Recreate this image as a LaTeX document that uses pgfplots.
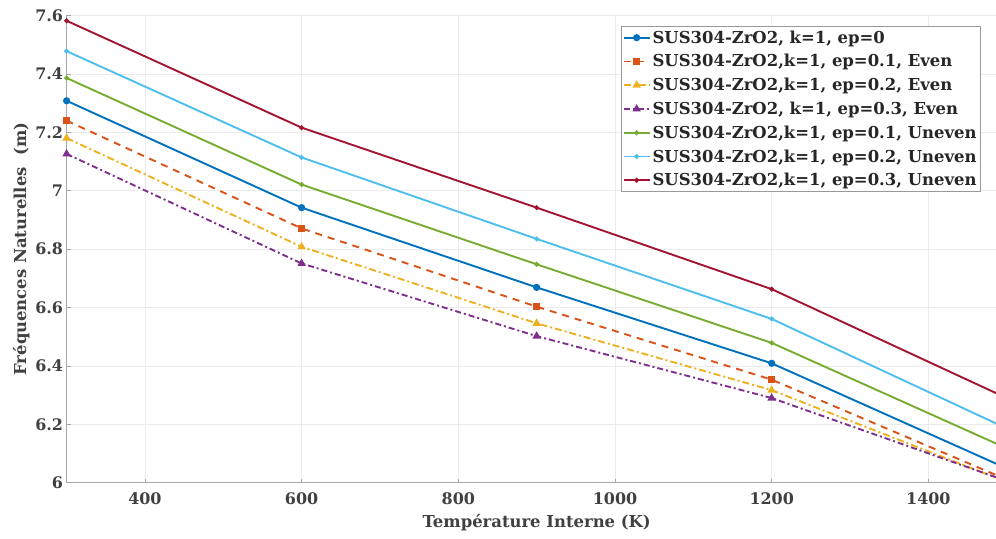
\documentclass[border=0pt]{standalone}
\usepackage{fontspec}
\setmainfont{DejaVu Serif}
\usepackage{pgfplots}
\pgfplotsset{compat=1.18}
\definecolor{mblue}{rgb}{0,0.447,0.741}
\definecolor{morange}{rgb}{0.85,0.325,0.098}
\definecolor{myellow}{rgb}{0.929,0.694,0.125}
\definecolor{mpurple}{rgb}{0.494,0.184,0.556}
\definecolor{mgreen}{rgb}{0.466,0.674,0.188}
\definecolor{mlblue}{rgb}{0.301,0.745,0.933}
\definecolor{mred}{rgb}{0.635,0.078,0.184}
\begin{document}
\begin{tikzpicture}
\begin{axis}[name=ax,
  scale only axis, width=940bp, height=467.2bp,
  xmin=300, xmax=1500, ymin=6, ymax=7.6,
  xtick={400,600,800,1000,1200,1400},
  ytick={6,6.2,6.4,6.6,6.8,7,7.2,7.4,7.6},
  axis x line*=bottom, axis y line*=left,
  axis line style={-, draw=black!35, line width=0.8bp},
  tick style={draw=black!35, line width=0.6bp},
  major tick length=4bp, tick align=inside,
  grid=major, major grid style={draw=black!8, line width=0.6bp},
  /pgf/number format/assume math mode=true,
  /pgf/number format/1000 sep={},
  ticklabel style={font=\bfseries\fontsize{16}{19}\selectfont, text=black!75},
  xticklabel style={yshift=-6bp},
  xlabel={Température Interne (K)},
  ylabel={Fréquences Naturelles\ \ (m)},
  label style={font=\bfseries\fontsize{16.5}{19}\selectfont, text=black!75},
  xlabel style={yshift=-3bp},
  ylabel style={yshift=-1bp},
  clip=true,
  legend cell align=left,
  legend style={at={(rel axis cs:1,1)}, anchor=north east, xshift=-26bp, yshift=-11bp,
    font=\bfseries\fontsize{16.5}{19}\selectfont, text=black!85, draw=black!40,
    row sep=5.8bp, inner xsep=2bp, inner ysep=2bp,
    /tikz/every even column/.append style={column sep=2bp}},
  legend image code/.code={\draw[mark repeat=2,mark phase=2] plot coordinates {(0bp,0bp) (13bp,0bp) (26bp,0bp)};},
  every axis plot/.append style={line width=1.9bp},
]
\addplot[color=mblue, solid, mark=*, mark size=2.6bp, mark options={solid}] coordinates {(300,7.308) (600,6.942) (900,6.669) (1200,6.409) (1500,6.049)};
\addlegendentry{SUS304-ZrO2, k=1, ep=0}
\addplot[color=morange, dash pattern=on 7bp off 6bp, mark=square*, mark size=2.3bp, mark options={solid}] coordinates {(300,7.240) (600,6.871) (900,6.603) (1200,6.353) (1500,6.011)};
\addlegendentry{SUS304-ZrO2,k=1, ep=0.1, Even}
\addplot[color=myellow, dash pattern=on 7bp off 3bp on 2bp off 3bp, mark=triangle*, mark size=3bp, mark options={solid}] coordinates {(300,7.180) (600,6.808) (900,6.546) (1200,6.317) (1500,6.003)};
\addlegendentry{SUS304-ZrO2,k=1, ep=0.2, Even}
\addplot[color=mpurple, dash pattern=on 6bp off 3bp on 2bp off 3bp, mark=triangle*, mark size=3bp, mark options={solid}] coordinates {(300,7.126) (600,6.751) (900,6.502) (1200,6.290) (1500,6.006)};
\addlegendentry{SUS304-ZrO2, k=1, ep=0.3, Even}
\addplot[color=mgreen, solid, mark=*, mark size=1.4bp] coordinates {(300,7.386) (600,7.021) (900,6.748) (1200,6.479) (1500,6.118)};
\addlegendentry{SUS304-ZrO2,k=1, ep=0.1, Uneven}
\addplot[color=mlblue, solid, mark=*, mark size=1.4bp] coordinates {(300,7.478) (600,7.114) (900,6.835) (1200,6.561) (1500,6.186)};
\addlegendentry{SUS304-ZrO2,k=1, ep=0.2, Uneven}
\addplot[color=mred, solid, mark=*, mark size=1.4bp] coordinates {(300,7.582) (600,7.216) (900,6.942) (1200,6.663) (1500,6.290)};
\addlegendentry{SUS304-ZrO2,k=1, ep=0.3, Uneven}
\end{axis}
\pgfresetboundingbox
\path[use as bounding box] ([xshift=-66.6bp,yshift=-55.3bp]ax.south west) rectangle ([xshift=-10.7bp,yshift=15.5bp]ax.north east);
\end{tikzpicture}
\end{document}
